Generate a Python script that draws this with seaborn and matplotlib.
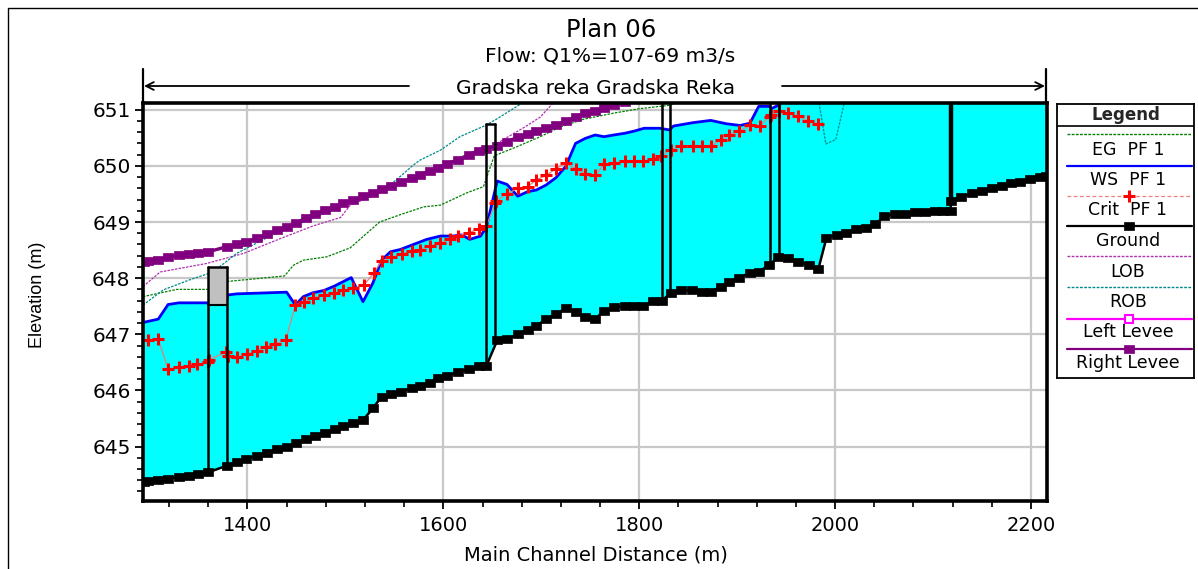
import matplotlib
matplotlib.use("Agg")
import matplotlib.pyplot as plt
from matplotlib.lines import Line2D
from matplotlib.ticker import FixedLocator, MultipleLocator
import seaborn as sns

# ---------------- profile data: main channel distance (m) / elevation (m) ----------------
ground_dist = [1294, 1299, 1309, 1319, 1330, 1340, 1350, 1360, 1379, 1389,
               1399, 1410, 1420, 1430, 1440, 1450, 1460, 1469, 1479, 1489,
               1498, 1508, 1518, 1528, 1537, 1547, 1557, 1568, 1576, 1586,
               1595, 1604, 1615, 1626, 1636, 1644, 1655, 1665, 1676, 1686,
               1695, 1705, 1715, 1725, 1735, 1745, 1755, 1764, 1774, 1785,
               1795, 1804, 1814, 1823, 1832, 1843, 1854, 1864, 1873, 1883,
               1892, 1902, 1913, 1922, 1932, 1942, 1952, 1962, 1973, 1983,
               1991, 2002, 2011, 2021, 2032, 2041, 2050, 2061, 2071, 2082,
               2092, 2102, 2110, 2118, 2118, 2129, 2140, 2150, 2160, 2170,
               2180, 2189, 2199, 2209, 2215]
ground_elev = [644.37, 644.38, 644.41, 644.43, 644.45, 644.48, 644.51, 644.54, 644.66, 644.72,
               644.78, 644.83, 644.89, 644.95, 645.00, 645.06, 645.13, 645.19, 645.25, 645.31,
               645.36, 645.42, 645.47, 645.68, 645.89, 645.93, 645.98, 646.04, 646.08, 646.14,
               646.22, 646.26, 646.32, 646.38, 646.43, 646.44, 646.89, 646.91, 647.00, 647.08,
               647.15, 647.27, 647.36, 647.46, 647.40, 647.30, 647.27, 647.42, 647.48, 647.50,
               647.50, 647.50, 647.60, 647.60, 647.73, 647.78, 647.78, 647.75, 647.75, 647.85,
               647.94, 648.01, 648.09, 648.11, 648.23, 648.37, 648.35, 648.29, 648.23, 648.17,
               648.71, 648.77, 648.81, 648.87, 648.90, 648.96, 649.10, 649.14, 649.15, 649.17,
               649.18, 649.19, 649.20, 649.20, 649.38, 649.45, 649.51, 649.56, 649.60, 649.64,
               649.69, 649.72, 649.76, 649.80, 649.82]

ws_dist = [1293.4, 1309, 1319, 1330, 1360, 1361, 1378, 1380, 1389, 1440,
           1449, 1457, 1467, 1478, 1489, 1506, 1518, 1528, 1537, 1546,
           1556, 1568, 1583, 1597, 1610, 1619, 1627, 1638, 1644, 1655,
           1665, 1676, 1686, 1695, 1705, 1715, 1725, 1735, 1745, 1755,
           1764, 1774, 1785, 1795, 1805, 1821, 1831, 1835, 1855, 1873,
           1889, 1903, 1913, 1922, 1933, 1935, 1942, 1960, 2050, 2118,
           2216.5]
ws_elev = [647.21, 647.27, 647.53, 647.56, 647.56, 647.53, 647.53, 647.70, 647.72, 647.75,
           647.52, 647.67, 647.74, 647.78, 647.86, 648.01, 647.58, 647.91, 648.32, 648.47,
           648.51, 648.59, 648.69, 648.75, 648.75, 648.77, 648.69, 648.75, 648.91, 649.73,
           649.67, 649.46, 649.54, 649.57, 649.66, 649.79, 649.99, 650.40, 650.49, 650.55,
           650.52, 650.55, 650.58, 650.62, 650.67, 650.67, 650.64, 650.71, 650.77, 650.81,
           650.75, 650.72, 650.76, 651.06, 651.06, 651.02, 651.08, 651.35, 651.50, 651.60,
           651.75]

crit_dist = [1299, 1309, 1319, 1330, 1340, 1349, 1360, 1361, 1378, 1380,
             1389, 1400, 1410, 1419, 1428, 1439, 1449, 1458, 1467, 1478,
             1488, 1498, 1508, 1519, 1529, 1537, 1547, 1558, 1568, 1576,
             1586, 1597, 1607, 1615, 1626, 1636, 1644, 1653, 1654, 1665,
             1676, 1686, 1695, 1705, 1715, 1725, 1735, 1745, 1755, 1764,
             1774, 1785, 1795, 1804, 1814, 1822, 1832, 1843, 1855, 1864,
             1873, 1883, 1892, 1902, 1913, 1923, 1933, 1935, 1943, 1952,
             1962, 1972, 1983]
crit_elev = [646.89, 646.91, 646.38, 646.41, 646.44, 646.47, 646.50, 646.55, 646.68, 646.61,
             646.59, 646.65, 646.71, 646.77, 646.83, 646.89, 647.52, 647.58, 647.64, 647.70,
             647.73, 647.78, 647.82, 647.88, 648.09, 648.31, 648.37, 648.43, 648.49, 648.51,
             648.57, 648.63, 648.69, 648.75, 648.81, 648.87, 648.93, 649.33, 649.37, 649.50,
             649.60, 649.63, 649.75, 649.83, 649.95, 650.05, 649.95, 649.86, 649.83, 650.03,
             650.05, 650.08, 650.08, 650.08, 650.13, 650.17, 650.29, 650.35, 650.35, 650.35,
             650.35, 650.46, 650.55, 650.62, 650.72, 650.71, 650.87, 650.90, 650.98, 650.94,
             650.88, 650.80, 650.74]

eg_dist = [1293.4, 1328, 1360, 1379, 1403, 1438, 1447, 1457, 1481, 1505,
           1535, 1556, 1580, 1597, 1624, 1641, 1652, 1675, 1699, 1719,
           1743, 1774, 1801, 1831, 1860]
eg_elev = [647.67, 647.80, 647.80, 647.94, 647.98, 648.04, 648.23, 648.32, 648.38, 648.54,
           649.00, 649.13, 649.27, 649.30, 649.52, 649.63, 650.18, 650.34, 650.52, 650.69,
           650.83, 650.94, 651.02, 651.08, 651.25]

lob_dist = [1293.4, 1311, 1358, 1396, 1433, 1467, 1495, 1505, 1550, 1600,
            1640, 1683, 1699, 1712, 1730]
lob_elev = [647.85, 648.11, 648.26, 648.44, 648.70, 648.93, 649.08, 649.30, 649.62, 649.98,
            650.25, 650.69, 650.87, 651.12, 651.35]

rob_dist = [1293.4, 1314, 1341, 1365, 1389, 1420, 1460, 1500, 1530, 1552,
            1569, 1576, 1597, 1617, 1643, 1655, 1677, 1700, 1900, 1981,
            1990.5, 2000.7, 2013, 2100, 2216]
rob_elev = [647.52, 647.79, 647.97, 648.11, 648.44, 648.72, 649.02, 649.30, 649.48, 649.75,
            650.01, 650.10, 650.28, 650.52, 650.72, 650.84, 651.08, 651.35, 651.70, 651.40,
            650.39, 650.47, 651.40, 651.70, 651.90]

levee_dist = [1294, 1299, 1309, 1319, 1330, 1340, 1350, 1360, 1379, 1389,
              1399, 1410, 1420, 1430, 1440, 1450, 1460, 1469, 1479, 1489,
              1498, 1508, 1518, 1528, 1537, 1547, 1557, 1568, 1576, 1586,
              1595, 1604, 1615, 1626, 1636, 1644, 1655, 1665, 1676, 1686,
              1695, 1705, 1715, 1725, 1735, 1745, 1755, 1764, 1774, 1785]
levee_elev = [648.29, 648.30, 648.33, 648.37, 648.41, 648.43, 648.45, 648.47, 648.56, 648.60,
              648.65, 648.71, 648.78, 648.85, 648.91, 648.99, 649.07, 649.14, 649.21, 649.27,
              649.33, 649.39, 649.46, 649.52, 649.58, 649.65, 649.71, 649.78, 649.84, 649.91,
              649.97, 650.04, 650.11, 650.20, 650.27, 650.30, 650.36, 650.43, 650.51, 650.56,
              650.62, 650.67, 650.73, 650.80, 650.87, 650.94, 650.98, 651.03, 651.08, 651.14]

# bridges: upstream / downstream face, ground at faces, low and high chord
bridge_up_dist = [1360, 1644, 1823, 1934]
bridge_dn_dist = [1379.5, 1653, 1831.5, 1943]
bridge_up_ground = [644.54, 646.44, 647.60, 648.23]
bridge_dn_ground = [644.66, 646.89, 647.73, 648.37]
bridge_low_chord = [647.52, 650.74, 651.60, 651.60]
bridge_high_chord = [648.20, 650.74, 651.60, 651.60]

# inline structure
weir_dist = 2118
weir_base = 649.38
weir_top = 651.60

x_ticks = [1400, 1600, 1800, 2000, 2200]
y_ticks = [645, 646, 647, 648, 649, 650, 651]

# ---------------- figure ----------------
W, H = 1198, 569
sns.set_theme(style="white")
plt.rcParams["font.family"] = ["DejaVu Sans"]

fig = plt.figure(figsize=(W / 100, H / 100), dpi=100)
fig.patch.set_facecolor("white")


def fx(px):
    return px / W


def fy(py):
    return 1 - py / H


AX_L, AX_R, AX_T, AX_B = 143, 1047, 103, 501
ax = fig.add_axes([fx(AX_L), fy(AX_B), (AX_R - AX_L) / W, (AX_B - AX_T) / H])
ax.set_facecolor("white")
ax.set_xlim(1293.4, 2216.3)
ax.set_ylim(644.03, 651.12)

ax.xaxis.set_major_locator(FixedLocator(x_ticks))
ax.yaxis.set_major_locator(FixedLocator(y_ticks))
ax.xaxis.set_minor_locator(MultipleLocator(40))
ax.yaxis.set_minor_locator(MultipleLocator(0.2))
ax.grid(True, which="major", color="#c8c8c8", lw=1.6)
ax.set_axisbelow(True)
ax.tick_params(axis="both", which="major", bottom=True, left=True, direction="out",
               length=6, width=1.3, color="black", labelcolor="black", pad=4)
ax.tick_params(axis="both", which="minor", bottom=True, left=True, direction="out",
               length=4, width=1.2, color="black")
ax.tick_params(axis="y", labelsize=14.5, pad=3)
ax.tick_params(axis="x", labelsize=14, pad=5)
for s in ax.spines.values():
    s.set_linewidth(2.6)
    s.set_color("black")
    s.set_zorder(10)

# water between ground and water surface
ax.fill(ground_dist + ws_dist[::-1], ground_elev + ws_elev[::-1],
        color="#00ffff", lw=0, zorder=2)

line_kw = dict(ax=ax, sort=False, estimator=None, legend=False)
RECT = [(-1.2, -0.9), (1.2, -0.9), (1.2, 0.9), (-1.2, 0.9), (-1.2, -0.9)]

sns.lineplot(x=eg_dist, y=eg_elev, color="#008000", lw=0.9,
             linestyle=(0, (2, 1)), zorder=3, **line_kw)
sns.lineplot(x=lob_dist, y=lob_elev, color="#b030b0", lw=0.9,
             linestyle=(0, (2, 1)), zorder=3, **line_kw)
sns.lineplot(x=rob_dist, y=rob_elev, color="#008b8b", lw=0.9,
             linestyle=(0, (2, 1)), zorder=3, **line_kw)
sns.lineplot(x=levee_dist, y=levee_elev, color="#800080", lw=2.4, marker=RECT,
             markersize=7.2, mec="#800080", mew=0.5, zorder=4, **line_kw)
sns.lineplot(x=ws_dist, y=ws_elev, color="#0000ff", lw=2.0, zorder=5, **line_kw)
sns.lineplot(x=crit_dist, y=crit_elev, color="#e08080", lw=0.9, marker="+",
             markersize=8, mec="#ff0000", mew=2.2, zorder=6, **line_kw)

# bridges and inline structure
for up, dn, gu, gd, lo, hi in zip(bridge_up_dist, bridge_dn_dist, bridge_up_ground,
                                  bridge_dn_ground, bridge_low_chord, bridge_high_chord):
    if hi > lo:
        ax.fill_between([up, dn], [lo, lo], [hi, hi], color="#c0c0c0", lw=0, zorder=6.5)
        ax.plot([up, dn], [lo, lo], color="black", lw=1.5, zorder=6.8)
    ax.plot([up, up], [gu, hi], color="black", lw=1.8, zorder=6.8)
    ax.plot([dn, dn], [gd, hi], color="black", lw=1.8, zorder=6.8)
    ax.plot([up, dn], [hi, hi], color="black", lw=1.8, zorder=6.8)
ax.plot([weir_dist, weir_dist], [weir_base, weir_top], color="black", lw=3.2, zorder=6.8)

sns.lineplot(x=ground_dist, y=ground_elev, color="black", lw=1.8, marker=RECT,
             markersize=7.2, mec="black", mew=0.5, zorder=7, **line_kw)

ax.set_xlabel("")
ax.set_ylabel("")

# ---------------- titles and axis labels ----------------
fig.text(fx(611), fy(30), "Plan 06", ha="center", va="center", fontsize=17.5, color="black")
fig.text(fx(610), fy(56), "Flow: Q1%=107-69 m3/s", ha="center", va="center",
         fontsize=14.5, color="black")
fig.text(fx(596), fy(88), "Gradska reka Gradska Reka", ha="center", va="center",
         fontsize=14.5, color="black")
fig.text(fx(38), fy(295), "Elevation (m)", rotation=90, ha="center", va="center",
         fontsize=13, family="Liberation Sans", color="black")
fig.text(fx(596), fy(555), "Main Channel Distance (m)", ha="center", va="center",
         fontsize=14, color="black")

# reach arrows
for xb in (AX_L, AX_R - 1):
    fig.add_artist(Line2D([fx(xb), fx(xb)], [fy(69), fy(AX_T)], color="black", lw=1.6))
arrow = dict(arrowstyle="->", color="black", lw=1.3, shrinkA=0, shrinkB=0, mutation_scale=14)
ax.annotate("", xy=(fx(AX_L + 1), fy(86)), xytext=(fx(409), fy(86)),
            xycoords="figure fraction", textcoords="figure fraction", arrowprops=arrow)
ax.annotate("", xy=(fx(AX_R - 2), fy(86)), xytext=(fx(782), fy(86)),
            xycoords="figure fraction", textcoords="figure fraction", arrowprops=arrow)

# outer frame
fig.add_artist(Line2D([fx(8), fx(8), fx(W)], [fy(H), fy(8), fy(8)], color="black", lw=1.0))

# ---------------- legend panel ----------------
LG_L, LG_R, LG_T, LG_B = 1057, 1194, 104, 378
lg = fig.add_axes([fx(LG_L), fy(LG_B), (LG_R - LG_L) / W, (LG_B - LG_T) / H])
lg.set_xlim(LG_L, LG_R)
lg.set_ylim(LG_B, LG_T)
lg.set_xticks([])
lg.set_yticks([])
lg.set_facecolor("white")
for s in lg.spines.values():
    s.set_linewidth(1.3)
    s.set_color("black")

lg.text(1126, 115, "Legend", ha="center", va="center", fontsize=12, fontweight="bold")
lg.plot([LG_L, LG_R], [126, 126], color="black", lw=1.2)

entries = [
    ("EG  PF 1", 134, 150, dict(color="#008000", lw=1.0, ls=(0, (2, 1))), None),
    ("WS  PF 1", 166, 180, dict(color="#0000ff", lw=1.6), None),
    ("Crit  PF 1", 196, 210, dict(color="#f08080", lw=0.9, ls=(0, (3, 2))),
     dict(marker="+", ms=8, mec="#ff0000", mew=2.2)),
    ("Ground", 226, 241, dict(color="black", lw=1.6),
     dict(marker=RECT, ms=7.2, mec="black", mfc="black", mew=0.5)),
    ("LOB", 256, 272, dict(color="#b030b0", lw=1.0, ls=(0, (2, 1))), None),
    ("ROB", 287, 302, dict(color="#008b8b", lw=1.0, ls=(0, (2, 1))), None),
    ("Left Levee", 319, 332, dict(color="#ff00ff", lw=1.6),
     dict(marker="s", ms=5.5, mec="#ff00ff", mfc="white", mew=1.5)),
    ("Right Levee", 349, 363, dict(color="#800080", lw=1.6),
     dict(marker=RECT, ms=7.2, mec="#800080", mfc="#800080", mew=0.5)),
]
for label, ly, ty, lkw, mkw in entries:
    lg.plot([1067, 1192], [ly, ly], **lkw)
    if mkw is not None:
        lg.plot([1129], [ly], ls="none", **mkw)
    lg.text(1128, ty, label, ha="center", va="center", fontsize=12.5, color="black")

fig.savefig("out.png", dpi=100, facecolor="white")
